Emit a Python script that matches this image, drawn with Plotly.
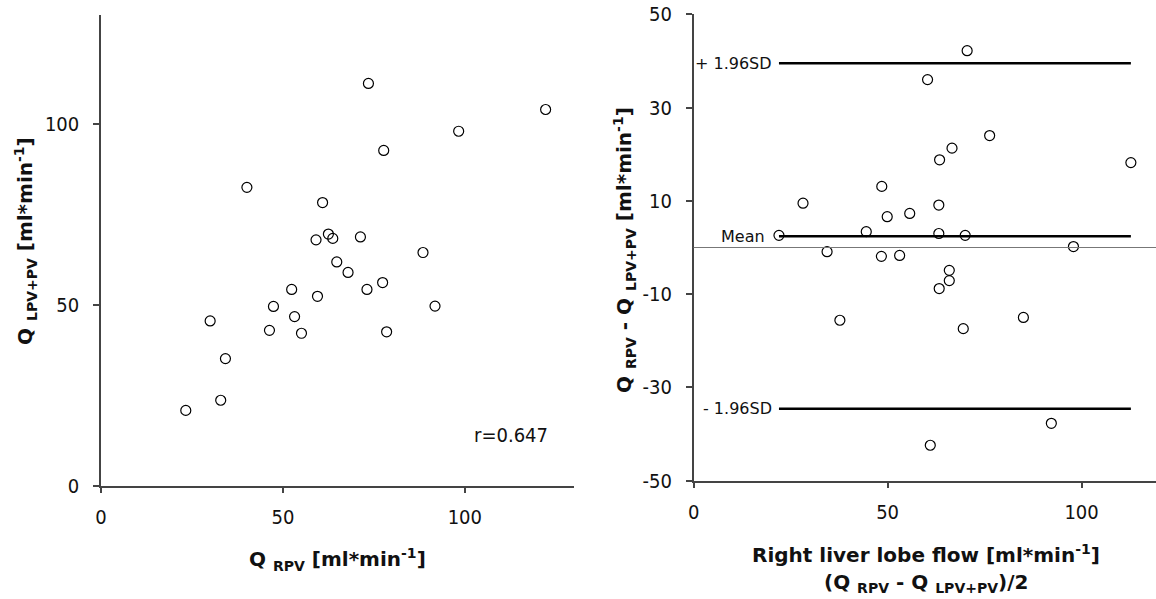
import plotly.graph_objects as go

# Left panel: Q_RPV vs Q_LPV+PV
q_rpv = [73.5, 122.2, 98.3, 77.7, 40.1, 60.9, 62.5, 63.7, 59.1, 71.3, 88.5, 64.8, 67.9, 77.4,
         52.4, 73.1, 59.5, 47.4, 91.8, 53.2, 30.0, 46.3, 55.1, 78.5, 34.2, 32.9, 23.3]
q_lpv_pv = [111.1, 103.9, 97.9, 92.6, 82.4, 78.2, 69.5, 68.3, 67.9, 68.7, 64.4, 61.8, 58.9, 56.1,
            54.2, 54.2, 52.3, 49.5, 49.6, 46.7, 45.5, 42.9, 42.1, 42.5, 35.1, 23.6, 20.8]

# Right panel: Bland-Altman (mean vs difference)
ba_mean = [70.5, 60.3, 76.3, 66.6, 63.4, 112.7, 48.5, 28.2, 63.2, 49.9, 55.7, 44.5, 22.0, 63.2,
           70.0, 34.4, 97.9, 48.4, 53.1, 65.9, 65.9, 63.3, 37.7, 85.0, 69.5, 92.2, 61.0]
ba_diff = [42.2, 36.0, 24.0, 21.3, 18.8, 18.2, 13.1, 9.5, 9.1, 6.6, 7.3, 3.4, 2.6, 3.0,
           2.6, -0.9, 0.2, -1.9, -1.7, -4.9, -7.1, -8.8, -15.6, -15.0, -17.4, -37.7, -42.4]

mean_diff = 2.4
upper_sd = 39.5
lower_sd = -34.6
r_label = "r=0.647"

left_ticks = [0, 50, 100]
right_yticks = [-50, -30, -10, 10, 30, 50]
right_yticklabels = ["-50", "-30", "-10", "10", "30", "50"]
right_xticks = [0, 50, 100]

W, H = 1156, 599
TICK_FONT = dict(family="DejaVu Sans Condensed", size=20, color="#111")
AX_COLOR = "#444"

fig = go.Figure()

marker = dict(symbol="circle-open", size=10, color="black", line=dict(width=1.2, color="black"))

fig.add_trace(go.Scatter(x=q_rpv, y=q_lpv_pv, mode="markers", marker=marker,
                         xaxis="x", yaxis="y", showlegend=False))

xmin, xmax = min(ba_mean), max(ba_mean)
for lvl in [upper_sd, mean_diff, lower_sd]:
    fig.add_trace(go.Scatter(x=[xmin, xmax], y=[lvl, lvl], mode="lines",
                             line=dict(color="black", width=2.5),
                             xaxis="x2", yaxis="y2", showlegend=False, hoverinfo="skip"))

fig.add_trace(go.Scatter(x=ba_mean, y=ba_diff, mode="markers", marker=marker,
                         xaxis="x2", yaxis="y2", showlegend=False))


def px_x(p):
    return p / W


def px_y(p):
    return 1 - p / H


axis_common = dict(showgrid=False, zeroline=False, showline=True, linecolor=AX_COLOR,
                   linewidth=1.5, ticks="outside", ticklen=6, tickwidth=1.5,
                   tickcolor=AX_COLOR, tickfont=TICK_FONT, automargin=False,
                   ticklabeloverflow="allow")

right_x_max = (1156 - 693.6) / 3.88

fig.update_layout(
    width=W, height=H,
    margin=dict(l=0, r=0, t=0, b=0),
    paper_bgcolor="white", plot_bgcolor="white",
    xaxis=dict(domain=[px_x(101), px_x(574)], range=[0, 130], tickvals=left_ticks,
               anchor="y", ticklabelstandoff=7, **axis_common),
    yaxis=dict(domain=[px_y(485.7), px_y(15)], range=[0, 130], tickvals=left_ticks,
               anchor="x", ticklabelstandoff=10, **axis_common),
    xaxis2=dict(domain=[px_x(693.6), 1.0], range=[0, right_x_max], tickvals=right_xticks,
                anchor="y2", ticklabelstandoff=7, **axis_common),
    yaxis2=dict(domain=[px_y(480.7), px_y(14.3)], range=[-50, 50], tickvals=right_yticks,
                ticktext=right_yticklabels, anchor="x2", ticklabelstandoff=10, **axis_common),
)

# thin zero line in right panel
fig.add_shape(type="line", xref="x2 domain", yref="y2", x0=0, x1=1, y0=0, y1=0,
              line=dict(color="#777", width=1))

TITLE_FONT = dict(family="DejaVu Sans", size=20, color="#111")
LABEL_FONT = dict(family="DejaVu Sans", size=16, color="#111")

ann = []
ann.append(dict(text="<b>Q <sub>RPV</sub> [ml*min<sup>-1</sup>]</b>", x=px_x(337.5), y=px_y(559),
                xref="paper", yref="paper", xanchor="center", yanchor="middle",
                showarrow=False, font=TITLE_FONT))
ann.append(dict(text="<b>Q <sub>LPV+PV</sub> [ml*min<sup>-1</sup>]</b>", x=px_x(26), y=px_y(241),
                xref="paper", yref="paper", xanchor="center", yanchor="middle",
                textangle=-90, showarrow=False, font=TITLE_FONT))
ann.append(dict(text="<b>Right liver lobe flow [ml*min<sup>-1</sup>]</b>", x=px_x(926), y=px_y(554),
                xref="paper", yref="paper", xanchor="center", yanchor="middle",
                showarrow=False, font=TITLE_FONT))
ann.append(dict(text="<b>(Q <sub>RPV</sub> - Q <sub>LPV+PV</sub>)/2</b>", x=px_x(926), y=px_y(583),
                xref="paper", yref="paper", xanchor="center", yanchor="middle",
                showarrow=False, font=TITLE_FONT))
ann.append(dict(text="<b>Q <sub>RPV</sub> - Q <sub>LPV+PV</sub> [ml*min<sup>-1</sup>]</b>",
                x=px_x(624), y=px_y(250), xref="paper", yref="paper",
                xanchor="center", yanchor="middle", textangle=-90, showarrow=False, font=TITLE_FONT))
ann.append(dict(text=r_label, x=101.9, y=14.0, xref="x", yref="y", xanchor="left",
                yanchor="middle", showarrow=False, font=TICK_FONT))
for txt, lvl, shift in [("+ 1.96SD", upper_sd, -5), ("Mean", mean_diff, -12), ("- 1.96SD", lower_sd, -5)]:
    ann.append(dict(text=txt, x=xmin, y=lvl, xref="x2", yref="y2", xanchor="right",
                    yanchor="middle", xshift=shift, showarrow=False, font=LABEL_FONT))

fig.update_layout(annotations=ann)

fig.write_html("out.html", config={"displayModeBar": False},
               post_script="document.body.style.margin='0';document.body.style.overflow='hidden';")
